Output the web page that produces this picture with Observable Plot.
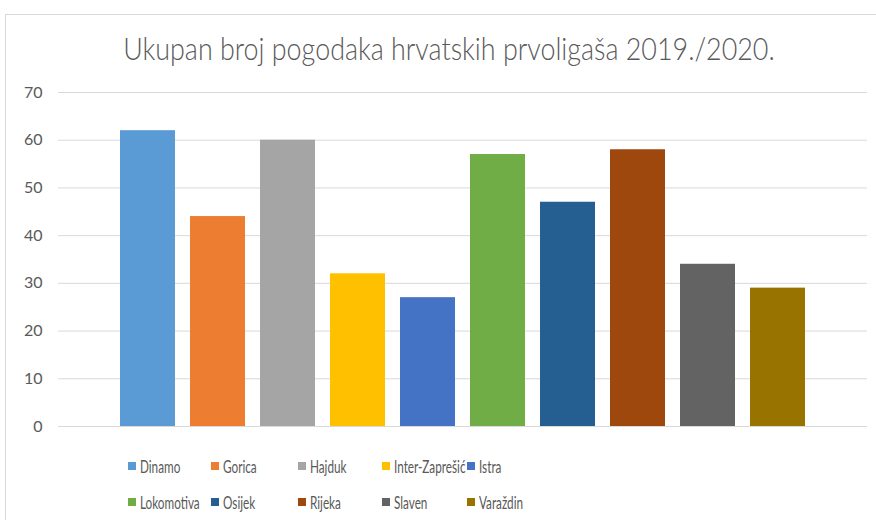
<!DOCTYPE html>
<html>
<head>
<meta charset="utf-8">
<script src="https://cdn.jsdelivr.net/npm/d3@7"></script>
<script src="https://cdn.jsdelivr.net/npm/@observablehq/plot@0.6"></script>
<style>
  html, body { margin: 0; padding: 0; background: #fff; }
  #wrap { position: relative; width: 876px; height: 520px; overflow: hidden; font-family: Lato, "Open Sans", sans-serif; color: #595959; }
  #frame { position: absolute; left: 5px; top: 14px; width: 900px; height: 600px; border: 1px solid #d9d9d9; box-sizing: border-box; }
  #title { position: absolute; left: 449px; top: 28px; font-size: 32px; font-weight: 300; color: #595959; white-space: nowrap; transform: translateX(-50%) scaleX(0.84); transform-origin: center center; }
  #chart { position: absolute; left: 0; top: 0; }
  .li { position: absolute; display: flex; align-items: center; font-size: 17px; color: #595959; white-space: nowrap; }
  .sw { width: 8px; height: 8px; margin-right: 4px; flex: none; }
  .li span { display: inline-block; transform: scaleX(0.69); transform-origin: left center; }
</style>
</head>
<body>
<div id="wrap">
  <div id="frame"></div>
  <div id="chart"></div>
  <div id="title">Ukupan broj pogodaka hrvatskih prvoligaša 2019./2020.</div>
  <div id="legend"></div>
</div>
<script>
const teams = ["Dinamo", "Gorica", "Hajduk", "Inter-Zaprešić", "Istra", "Lokomotiva", "Osijek", "Rijeka", "Slaven", "Varaždin"];
const goals = [62, 44, 60, 32, 27, 57, 47, 58, 34, 29];
const colors = ["#5B9BD5", "#ED7D31", "#A5A5A5", "#FFC000", "#4472C4", "#70AD47", "#255E91", "#9E480E", "#636363", "#997300"];
const yTicks = [0, 10, 20, 30, 40, 50, 60, 70];

const data = teams.map((t, i) => ({team: t, goals: goals[i]}));

const chart = Plot.plot({
  width: 876,
  height: 440,
  marginTop: 92,
  marginBottom: 14,
  marginLeft: 58,
  marginRight: 9,
  style: {fontFamily: "Lato, 'Open Sans', sans-serif", background: "transparent"},
  x: {domain: teams, range: [112, 814], paddingInner: 0.21, paddingOuter: 0.105, axis: null},
  y: {domain: [0, 70], axis: null},
  color: {domain: teams, range: colors},
  marks: [
    Plot.ruleY(yTicks, {stroke: "#d9d9d9", strokeWidth: 1}),
    Plot.barY(data, {x: "team", y: "goals", fill: "team"}),
    Plot.axisY(yTicks, {tickSize: 0, tickPadding: 16, fontSize: 16, fill: "#595959", label: null})
  ]
});
document.getElementById("chart").appendChild(chart);

const legend = document.getElementById("legend");
const cols = [128, 211, 298, 382, 467];
const rows = [466, 502];
teams.forEach((t, i) => {
  const el = document.createElement("div");
  el.className = "li";
  el.style.left = cols[i % 5] + "px";
  el.style.top = (rows[Math.floor(i / 5)] - 11) + "px";
  el.style.height = "22px";
  const sw = document.createElement("div");
  sw.className = "sw";
  sw.style.background = colors[i];
  el.appendChild(sw);
  const tx = document.createElement("span");
  tx.textContent = t;
  el.appendChild(tx);
  legend.appendChild(el);
});
</script>
</body>
</html>
